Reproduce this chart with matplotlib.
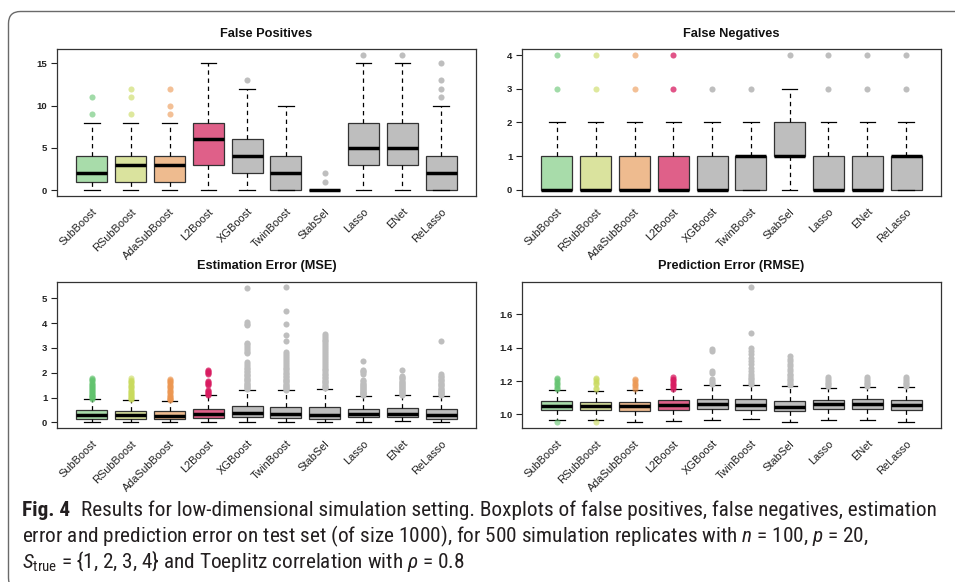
import matplotlib
matplotlib.use("Agg")
import matplotlib.pyplot as plt
import matplotlib.transforms as mtransforms
from matplotlib import font_manager as fm
from matplotlib.font_manager import FontProperties
from matplotlib.path import Path
from matplotlib.patches import PathPatch
import numpy as np

# ---------------- data ----------------
methods = ["SubBoost", "RSubBoost", "AdaSubBoost", "L2Boost", "XGBoost",
           "TwinBoost", "StabSel", "Lasso", "ENet", "ReLasso"]

# False positives
fp_whislo = [0, 0, 0, 0, 0, 0, 0, 0, 0, 0]
fp_q1 = [1, 1, 1, 3, 2, 0, 0, 3, 3, 0]
fp_med = [2, 3, 3, 6, 4, 2, 0, 5, 5, 2]
fp_q3 = [4, 4, 4, 8, 6, 4, 0, 8, 8, 4]
fp_whishi = [8, 8, 8, 15, 12, 10, 0, 15, 15, 10]
fp_fliers = [[9, 11], [9, 11, 12], [9, 10, 12], [], [13], [], [1, 2], [16], [16],
             [11, 12, 13, 15]]

# False negatives
fn_whislo = [0, 0, 0, 0, 0, 0, 0, 0, 0, 0]
fn_q1 = [0, 0, 0, 0, 0, 0, 1, 0, 0, 0]
fn_med = [0, 0, 0, 0, 0, 1, 1, 0, 0, 1]
fn_q3 = [1, 1, 1, 1, 1, 1, 2, 1, 1, 1]
fn_whishi = [2, 2, 2, 2, 2, 2, 3, 2, 2, 2]
fn_fliers = [[3, 4], [3, 4], [3, 4], [3, 4], [3], [3], [4], [3, 4], [3, 4], [3, 4]]

# Estimation error (MSE)
mse_whislo = [0.03, 0.03, 0.02, 0.03, 0.03, 0.01, 0.01, 0.03, 0.04, 0.01]
mse_q1 = [0.15, 0.15, 0.13, 0.17, 0.22, 0.19, 0.15, 0.20, 0.20, 0.12]
mse_med = [0.28, 0.28, 0.27, 0.32, 0.38, 0.33, 0.29, 0.33, 0.34, 0.29]
mse_q3 = [0.48, 0.44, 0.44, 0.55, 0.66, 0.60, 0.63, 0.55, 0.56, 0.52]
mse_whishi = [0.93, 0.89, 0.86, 1.09, 1.32, 1.29, 1.36, 1.08, 1.09, 1.08]
mse_fliers = [
    [0.96, 0.99, 1.02, 1.05, 1.08, 1.11, 1.14, 1.18, 1.22, 1.26, 1.30, 1.34, 1.38,
     1.42, 1.46, 1.50, 1.55, 1.60, 1.65, 1.70, 1.74, 1.78],
    [0.92, 0.95, 0.98, 1.02, 1.06, 1.10, 1.14, 1.18, 1.22, 1.27, 1.32, 1.37, 1.42,
     1.47, 1.52, 1.57, 1.62, 1.67, 1.72, 1.78],
    [0.89, 0.92, 0.96, 1.00, 1.04, 1.08, 1.12, 1.17, 1.22, 1.27, 1.32, 1.37, 1.42,
     1.47, 1.52, 1.57, 1.62, 1.67, 1.71, 1.75],
    [1.12, 1.15, 1.18, 1.21, 1.25, 1.29, 1.49, 1.53, 1.58, 1.63, 1.68, 1.96, 2.00,
     2.04, 2.08, 2.12],
    [1.35, 1.39, 1.43, 1.47, 1.51, 1.55, 1.60, 1.65, 1.70, 1.75, 1.80, 1.85, 1.90,
     1.96, 2.02, 2.08, 2.14, 2.20, 2.27, 2.34, 2.42, 2.78, 2.85, 2.92, 3.00, 3.07,
     3.14, 3.20, 3.92, 3.98, 4.05, 5.42],
    [1.31, 1.35, 1.39, 1.43, 1.47, 1.51, 1.56, 1.61, 1.66, 1.71, 1.76, 1.82, 1.88,
     1.94, 2.00, 2.07, 2.14, 2.21, 2.28, 2.36, 2.44, 2.52, 2.60, 2.68, 2.76, 2.84,
     3.28, 3.53, 3.98, 4.48, 5.45],
    [1.39, 1.43, 1.47, 1.52, 1.57, 1.62, 1.67, 1.72, 1.78, 1.84, 1.90, 1.96, 2.02,
     2.09, 2.16, 2.23, 2.30, 2.38, 2.46, 2.54, 2.62, 2.70, 2.78, 2.86, 2.94, 3.02,
     3.10, 3.18, 3.26, 3.34, 3.42, 3.50, 3.56],
    [1.11, 1.14, 1.17, 1.20, 1.24, 1.28, 1.32, 1.36, 1.40, 1.44, 1.48, 1.52, 1.56,
     1.60, 1.65, 1.70, 1.96, 2.01, 2.06, 2.11, 2.48],
    [1.12, 1.15, 1.18, 1.21, 1.25, 1.29, 1.33, 1.37, 1.41, 1.45, 1.49, 1.53, 1.58,
     1.63, 1.68, 1.73, 1.78, 1.83, 1.88, 2.12],
    [1.11, 1.14, 1.17, 1.20, 1.24, 1.28, 1.32, 1.36, 1.40, 1.45, 1.50, 1.55, 1.60,
     1.65, 1.70, 1.76, 1.82, 1.88, 1.94, 3.28],
]

# Prediction error (RMSE)
rmse_whislo = [0.966, 0.966, 0.952, 0.960, 0.966, 0.972, 0.954, 0.966, 0.966, 0.954]
rmse_q1 = [1.024, 1.024, 1.022, 1.028, 1.032, 1.024, 1.018, 1.030, 1.032, 1.026]
rmse_med = [1.050, 1.048, 1.048, 1.058, 1.062, 1.054, 1.046, 1.060, 1.060, 1.056]
rmse_q3 = [1.078, 1.074, 1.074, 1.084, 1.094, 1.090, 1.082, 1.088, 1.090, 1.084]
rmse_whishi = [1.144, 1.140, 1.148, 1.150, 1.174, 1.174, 1.168, 1.160, 1.162, 1.164]
rmse_fliers = [
    [0.954, 1.15, 1.16, 1.17, 1.18, 1.19, 1.20, 1.21, 1.22],
    [0.954, 1.15, 1.16, 1.18, 1.19, 1.20, 1.21, 1.22],
    [1.155, 1.165, 1.175, 1.185, 1.195, 1.205, 1.212],
    [1.155, 1.165, 1.175, 1.185, 1.195, 1.205, 1.215, 1.222],
    [1.18, 1.19, 1.20, 1.21, 1.25, 1.262, 1.38, 1.392],
    [1.18, 1.19, 1.20, 1.21, 1.22, 1.23, 1.24, 1.26, 1.28, 1.30, 1.32, 1.34, 1.36,
     1.38, 1.40, 1.488, 1.766],
    [1.175, 1.185, 1.195, 1.205, 1.215, 1.225, 1.235, 1.245, 1.26, 1.275, 1.29,
     1.305, 1.32, 1.335, 1.35],
    [1.17, 1.18, 1.19, 1.20, 1.21, 1.222],
    [1.17, 1.18, 1.19, 1.20, 1.21, 1.224],
    [1.17, 1.18, 1.19, 1.20, 1.21, 1.222],
]

panel_titles = ["False Positives", "False Negatives",
                "Estimation Error (MSE)", "Prediction Error (RMSE)"]
fp_ticks = [0, 5, 10, 15]
fn_ticks = [0, 1, 2, 3, 4]
mse_ticks = [0, 1, 2, 3, 4, 5]
rmse_ticks = [1.0, 1.2, 1.4, 1.6]
rmse_ticklabels = ["1.0", "1.2", "1.4", "1.6"]

caption_bold = "Fig. 4"
caption_l1 = ("Results for low-dimensional simulation setting. Boxplots of false positives, "
              "false negatives, estimation")
caption_l2 = ("error and prediction error on test set (of size 1000), for 500 simulation "
              "replicates with $n$ = 100, $p$ = 20,")
caption_l3 = r"$S_{\mathrm{true}}$ = {1, 2, 3, 4} and Toeplitz correlation with $\rho$ = 0.8"

# ---------------- style ----------------
box_colors = ["#A8DCAA", "#DAE39E", "#EEBB8F", "#DF6089"] + ["#BEBEBE"] * 6
flier_colors = ["#62C36E", "#C9DA5C", "#EC9650", "#D81B60"] + ["#BEBEBE"] * 6
flier_alpha = [0.6, 0.6, 0.6, 0.75] + [1.0] * 6

plt.rcParams["font.family"] = ["Liberation Sans", "DejaVu Sans"]
plt.rcParams["mathtext.fontset"] = "custom"
plt.rcParams["mathtext.rm"] = "Roboto"
plt.rcParams["mathtext.it"] = "Roboto:italic"
plt.rcParams["mathtext.bf"] = "Roboto:bold"


# look for a narrow (condensed) sans face for the caption, like the journal's font
def _wnum(w):
    if isinstance(w, str):
        return fm.weight_dict.get(w, 400)
    return int(w)


def find_narrow(weight, style):
    fams = ["Noto Sans", "Open Sans", "Roboto Condensed", "Roboto",
            "Liberation Sans Narrow", "DejaVu Sans"]
    for stretch_pref in ("semi-condensed", "condensed"):
        for nm in fams:
            for fe in fm.fontManager.ttflist:
                if (fe.name == nm and str(fe.stretch) == stretch_pref
                        and fe.style == style and abs(_wnum(fe.weight) - weight) < 100):
                    return fe.fname
    for fe in fm.fontManager.ttflist:
        if (fe.name == "Liberation Sans Narrow" and fe.style == style
                and abs(_wnum(fe.weight) - weight) < 100):
            return fe.fname
    return None


def _esc(s):
    out = ""
    for ch in s:
        if ch in "\\=_:,":
            out += "\\" + ch
        else:
            out += ch
    return out


f_reg = find_narrow(400, "normal")
f_bold = find_narrow(700, "normal")
f_it = find_narrow(400, "italic")
if f_reg:
    cap_prop = FontProperties(fname=f_reg)
    plt.rcParams["mathtext.rm"] = "sans:file=" + _esc(f_reg)
else:
    cap_prop = FontProperties(family="Roboto")
cap_bprop = FontProperties(fname=f_bold) if f_bold else FontProperties(family="Roboto", weight="bold")
if f_it:
    plt.rcParams["mathtext.it"] = "sans:file=" + _esc(f_it)

W, H = 955, 582
fig = plt.figure(figsize=(W / 100, H / 100), dpi=100)
fig.patch.set_facecolor("white")


def add_ax(left, top, right, bottom):
    return fig.add_axes([left / W, 1 - bottom / H, (right - left) / W, (bottom - top) / H])


def draw_panel(ax, title, title_y, whislo, q1, med, q3, whishi, fliers,
               ylim, yticks, yticklabels=None):
    stats = []
    for i in range(len(methods)):
        stats.append(dict(whislo=whislo[i], q1=q1[i], med=med[i], q3=q3[i],
                          whishi=whishi[i], fliers=fliers[i], label=methods[i]))
    bp = ax.bxp(stats, positions=np.arange(1, len(methods) + 1), widths=0.8,
                capwidths=0.4, patch_artist=True, showfliers=True,
                boxprops=dict(edgecolor="#333333", linewidth=0.9),
                whiskerprops=dict(color="black", linestyle=(0, (3.5, 3)), linewidth=0.9),
                capprops=dict(color="black", linewidth=0.9),
                medianprops=dict(color="black", linewidth=2.5, solid_capstyle="butt"),
                flierprops=dict(marker="o", markersize=4.4, markeredgewidth=0,
                                linestyle="none"))
    for patch, c in zip(bp["boxes"], box_colors):
        patch.set_facecolor(c)
    for fl, c, a in zip(bp["fliers"], flier_colors, flier_alpha):
        fl.set_markerfacecolor(c)
        fl.set_alpha(a)
    ax.set_xlim(0.1, len(methods) + 0.9)
    ax.set_ylim(*ylim)
    ax.set_xticks([])
    ax.set_yticks(yticks)
    if yticklabels is not None:
        ax.set_yticklabels(yticklabels)
    ax.tick_params(axis="y", direction="out", length=4, width=0.8, pad=3,
                   labelsize=6.8, colors="#222222")
    for lab in ax.get_yticklabels():
        lab.set_fontweight("bold")
    for sp in ax.spines.values():
        sp.set_color("#333333")
        sp.set_linewidth(0.9)
    # rotated category labels
    trans = mtransforms.blended_transform_factory(ax.transData, ax.transAxes)
    trans = trans + mtransforms.ScaledTranslation(3.5 / 100, -14 / 100, fig.dpi_scale_trans)
    for i, m in enumerate(methods):
        ax.text(i + 1, 0, m, transform=trans, rotation=45, ha="right", va="center",
                rotation_mode="anchor", fontsize=7.9, color="#222222")
    # title
    bb = ax.get_position()
    fig.text((bb.x0 + bb.x1) / 2, 1 - title_y / H, title, ha="center", va="center",
             fontsize=9.2, fontweight="bold", color="#111111")


ax1 = add_ax(57, 49, 476, 196)
ax2 = add_ax(522, 49, 941, 196)
ax3 = add_ax(57, 282, 476, 428)
ax4 = add_ax(522, 282, 941, 428)

draw_panel(ax1, panel_titles[0], 34, fp_whislo, fp_q1, fp_med, fp_q3, fp_whishi,
           fp_fliers, (-0.67, 16.68), fp_ticks)
draw_panel(ax2, panel_titles[1], 34, fn_whislo, fn_q1, fn_med, fn_q3, fn_whishi,
           fn_fliers, (-0.18, 4.18), fn_ticks)
draw_panel(ax3, panel_titles[2], 266, mse_whislo, mse_q1, mse_med, mse_q3, mse_whishi,
           mse_fliers, (-0.23, 5.66), mse_ticks)
draw_panel(ax4, panel_titles[3], 266, rmse_whislo, rmse_q1, rmse_med, rmse_q3,
           rmse_whishi, rmse_fliers, (0.918, 1.794), rmse_ticks, rmse_ticklabels)

# ---------------- outer rounded frame ----------------
r = 12
x0, y0, x1, y1 = 8.5, 11.5, 970, 590  # pixel coords (y downward)
verts_px = [(x1, y0), (x0 + r, y0), (x0, y0), (x0, y0 + r),
            (x0, y1 - r), (x0, y1), (x0 + r, y1), (x1, y1)]
codes = [Path.MOVETO, Path.LINETO, Path.CURVE3, Path.CURVE3,
         Path.LINETO, Path.CURVE3, Path.CURVE3, Path.LINETO]
verts_in = [(vx / 100, (H - vy) / 100) for vx, vy in verts_px]
frame = PathPatch(Path(verts_in, codes), transform=fig.dpi_scale_trans,
                  facecolor="none", edgecolor="#6a6a6a", linewidth=1.0)
fig.patches.append(frame)

# ---------------- caption ----------------
cap_color = "#231f20"
base_fs = 10.0
left_px, right_px = 22, 934
ys = [510, 536, 562]

t_b = fig.text(left_px / W, 1 - ys[0] / H, caption_bold, fontproperties=cap_bprop,
               fontsize=base_fs, color=cap_color, va="center")
t1 = fig.text(0, 1 - ys[0] / H, caption_l1, fontproperties=cap_prop, fontsize=base_fs,
              color=cap_color, va="center")
t2 = fig.text(left_px / W, 1 - ys[1] / H, caption_l2, fontproperties=cap_prop,
              fontsize=base_fs, color=cap_color, va="center")
t3 = fig.text(left_px / W, 1 - ys[2] / H, caption_l3, fontproperties=cap_prop,
              fontsize=base_fs, color=cap_color, va="center")

fig.canvas.draw()
rend = fig.canvas.get_renderer()
wb = t_b.get_window_extent(rend).width
w1 = t1.get_window_extent(rend).width
gap = 0.7 * base_fs
scale = (right_px - left_px) / (wb + gap + w1)
fs = base_fs * scale
for t in (t_b, t1, t2, t3):
    t.set_fontsize(fs)
fig.canvas.draw()
bbb = t_b.get_window_extent(rend)
t1.set_x((bbb.x1 + gap * scale) / W)

fig.savefig("out.png", dpi=100)
